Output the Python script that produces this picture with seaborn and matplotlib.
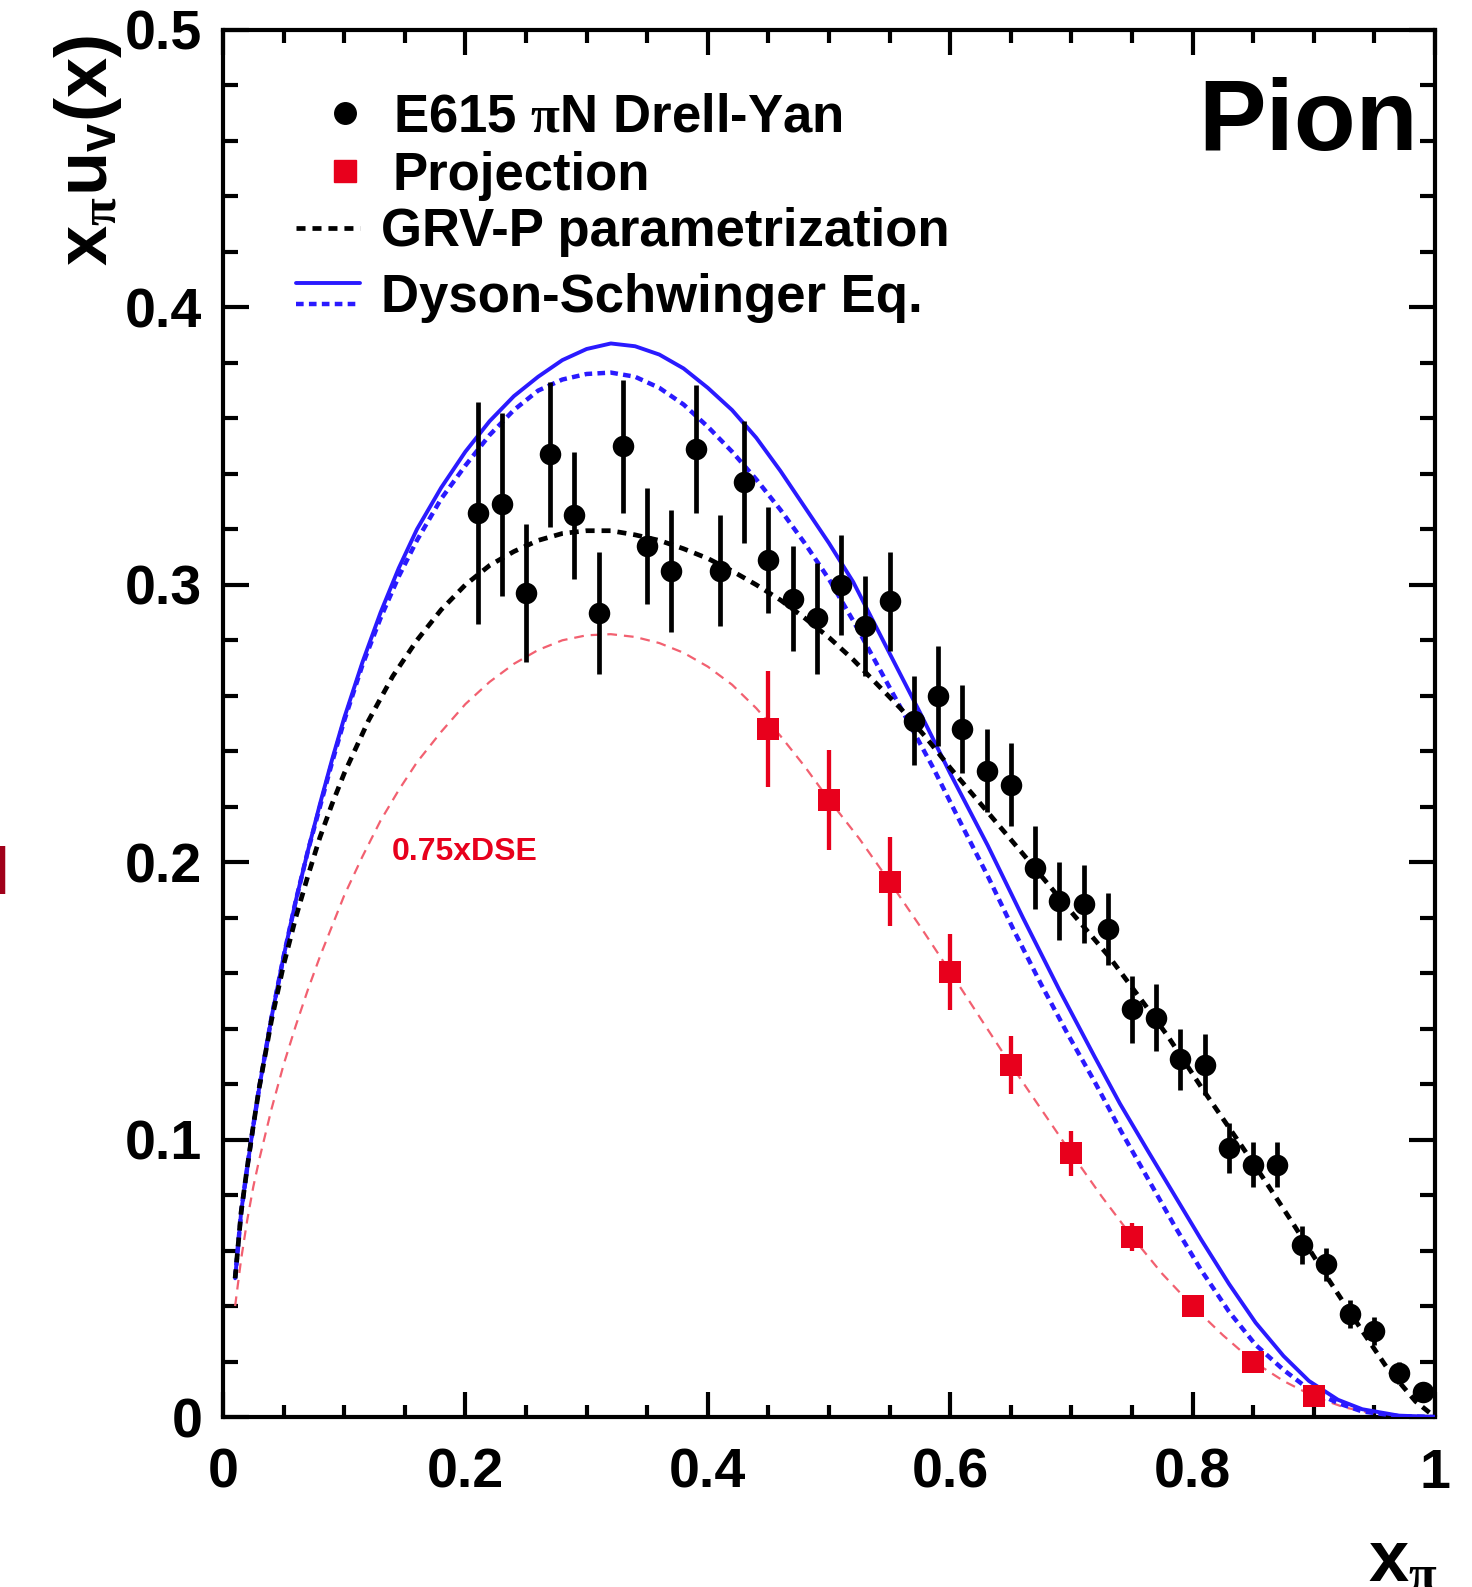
import numpy as np
import pandas as pd
import matplotlib
matplotlib.use("Agg")
import matplotlib.pyplot as plt
import seaborn as sns
from matplotlib.lines import Line2D
from matplotlib.legend_handler import HandlerBase
from matplotlib.ticker import MultipleLocator

# ---------------- data ----------------
e615_x = [0.21, 0.23, 0.25, 0.27, 0.29, 0.31, 0.33, 0.35, 0.37, 0.39,
          0.41, 0.43, 0.45, 0.47, 0.49, 0.51, 0.53, 0.55, 0.57, 0.59,
          0.61, 0.63, 0.65, 0.67, 0.69, 0.71, 0.73, 0.75, 0.77, 0.79,
          0.81, 0.83, 0.85, 0.87, 0.89, 0.91, 0.93, 0.95, 0.97, 0.99]
e615_y = [0.326, 0.329, 0.297, 0.347, 0.325, 0.290, 0.350, 0.314, 0.305, 0.349,
          0.305, 0.337, 0.309, 0.295, 0.288, 0.300, 0.285, 0.294, 0.251, 0.260,
          0.248, 0.233, 0.228, 0.198, 0.186, 0.185, 0.176, 0.147, 0.144, 0.129,
          0.127, 0.097, 0.091, 0.091, 0.062, 0.055, 0.037, 0.031, 0.016, 0.009]
e615_err = [0.040, 0.033, 0.025, 0.026, 0.023, 0.022, 0.024, 0.021, 0.022, 0.023,
            0.020, 0.022, 0.019, 0.019, 0.020, 0.018, 0.018, 0.018, 0.016, 0.018,
            0.016, 0.015, 0.015, 0.015, 0.014, 0.014, 0.013, 0.012, 0.012, 0.011,
            0.011, 0.009, 0.008, 0.008, 0.007, 0.006, 0.005, 0.005, 0.004, 0.003]

proj_x = [0.45, 0.50, 0.55, 0.60, 0.65, 0.70, 0.75, 0.80, 0.85, 0.90]
proj_y = [0.248, 0.2225, 0.193, 0.1605, 0.127, 0.095, 0.065, 0.040, 0.020, 0.0074]
proj_err = [0.021, 0.018, 0.016, 0.0137, 0.0105, 0.008, 0.005, 0.003, 0.002, 0.001]

grv_x = [0.010, 0.015, 0.020, 0.025, 0.030, 0.040, 0.050, 0.060, 0.070, 0.080,
         0.090, 0.100, 0.120, 0.140, 0.160, 0.180, 0.200, 0.220, 0.240, 0.260,
         0.280, 0.300, 0.320, 0.340, 0.360, 0.380, 0.400, 0.420, 0.440, 0.460,
         0.480, 0.500, 0.520, 0.540, 0.560, 0.580, 0.600, 0.631, 0.660, 0.700,
         0.731, 0.760, 0.780, 0.807, 0.840, 0.860, 0.881, 0.910, 0.940, 0.960,
         0.984, 1.000]
grv_y = [0.050, 0.074, 0.090, 0.105, 0.119, 0.143, 0.163, 0.180, 0.195, 0.209,
         0.221, 0.232, 0.251, 0.267, 0.280, 0.291, 0.300, 0.307, 0.312, 0.316,
         0.3185, 0.3195, 0.3195, 0.318, 0.316, 0.313, 0.3095, 0.305, 0.300, 0.2945,
         0.288, 0.281, 0.273, 0.264, 0.255, 0.245, 0.234, 0.218, 0.203, 0.182,
         0.166, 0.149, 0.137, 0.119, 0.098, 0.085, 0.071, 0.051, 0.031, 0.018,
         0.0056, 0.0]

dse_x = [0.010, 0.015, 0.020, 0.025, 0.030, 0.040, 0.050, 0.060, 0.070, 0.080,
         0.090, 0.100, 0.115, 0.130, 0.145, 0.160, 0.180, 0.200, 0.220, 0.240,
         0.260, 0.280, 0.300, 0.320, 0.340, 0.360, 0.380, 0.400, 0.420, 0.440,
         0.460, 0.480, 0.500, 0.520, 0.548, 0.575, 0.600, 0.631, 0.660, 0.690,
         0.719, 0.740, 0.763, 0.785, 0.807, 0.830, 0.852, 0.875, 0.896, 0.920,
         0.940, 0.970, 1.000]
dse_y = [0.050, 0.074, 0.090, 0.105, 0.119, 0.144, 0.166, 0.186, 0.204, 0.221,
         0.237, 0.252, 0.272, 0.290, 0.306, 0.320, 0.335, 0.348, 0.359, 0.368,
         0.375, 0.381, 0.385, 0.387, 0.386, 0.383, 0.378, 0.371, 0.363, 0.353,
         0.341, 0.328, 0.315, 0.301, 0.277, 0.254, 0.232, 0.206, 0.180, 0.154,
         0.130, 0.113, 0.096, 0.080, 0.064, 0.048, 0.034, 0.022, 0.013, 0.0062,
         0.0028, 0.0005, 0.0]

dse2_x = [0.010, 0.015, 0.020, 0.025, 0.030, 0.040, 0.050, 0.060, 0.070, 0.080,
          0.090, 0.100, 0.115, 0.130, 0.145, 0.160, 0.180, 0.200, 0.220, 0.240,
          0.260, 0.280, 0.300, 0.320, 0.340, 0.360, 0.380, 0.400, 0.420, 0.440,
          0.460, 0.480, 0.500, 0.520, 0.540, 0.560, 0.586, 0.610, 0.631, 0.653,
          0.675, 0.697, 0.719, 0.741, 0.763, 0.785, 0.807, 0.830, 0.852, 0.875,
          0.896, 0.920, 0.940, 0.970, 1.000]
dse2_y = [0.050, 0.074, 0.090, 0.105, 0.119, 0.144, 0.166, 0.186, 0.204, 0.220,
          0.236, 0.251, 0.271, 0.288, 0.303, 0.316, 0.331, 0.343, 0.354, 0.363,
          0.370, 0.374, 0.376, 0.3765, 0.375, 0.371, 0.365, 0.357, 0.348, 0.338,
          0.327, 0.315, 0.302, 0.287, 0.271, 0.255, 0.234, 0.213, 0.195, 0.175,
          0.156, 0.138, 0.121, 0.103, 0.086, 0.069, 0.053, 0.038, 0.026, 0.017,
          0.010, 0.005, 0.002, 0.0003, 0.0]

dse075_x = [0.010, 0.015, 0.020, 0.025, 0.030, 0.040, 0.050, 0.060, 0.070, 0.080,
            0.090, 0.100, 0.115, 0.130, 0.145, 0.160, 0.180, 0.200, 0.220, 0.240,
            0.260, 0.280, 0.300, 0.320, 0.340, 0.360, 0.380, 0.400, 0.420, 0.440,
            0.460, 0.480, 0.500, 0.525, 0.550, 0.575, 0.600, 0.625, 0.650, 0.675,
            0.700, 0.725, 0.750, 0.775, 0.800, 0.825, 0.850, 0.875, 0.900, 0.925,
            0.950, 0.975, 1.000]
dse075_y = [0.040, 0.057, 0.071, 0.083, 0.093, 0.111, 0.127, 0.141, 0.154, 0.166,
            0.177, 0.188, 0.202, 0.215, 0.226, 0.236, 0.247, 0.257, 0.265, 0.2715,
            0.2765, 0.280, 0.2818, 0.2822, 0.2812, 0.279, 0.2755, 0.2705, 0.264, 0.2555,
            0.2455, 0.2345, 0.2225, 0.2085, 0.193, 0.177, 0.1605, 0.1437, 0.127, 0.111,
            0.095, 0.0795, 0.065, 0.0516, 0.040, 0.0295, 0.020, 0.013, 0.0074, 0.0035,
            0.0012, 0.0002, 0.0]

xtick_vals = [0, 0.2, 0.4, 0.6, 0.8, 1.0]
xtick_labels = ["0", "0.2", "0.4", "0.6", "0.8", "1"]
ytick_vals = [0, 0.1, 0.2, 0.3, 0.4, 0.5]
ytick_labels = ["0", "0.1", "0.2", "0.3", "0.4", "0.5"]

legend_labels = ["E615 $\\mathrm{\\pi}$N Drell-Yan", "Projection",
                 "GRV-P parametrization", "Dyson-Schwinger Eq."]

# ---------------- style ----------------
sns.set_theme(style="ticks")
plt.rcParams["font.family"] = ["Liberation Sans", "DejaVu Sans"]
plt.rcParams["font.weight"] = "bold"
plt.rcParams["text.color"] = "black"
plt.rcParams["axes.labelcolor"] = "black"
plt.rcParams["xtick.color"] = "black"
plt.rcParams["ytick.color"] = "black"
plt.rcParams["mathtext.fontset"] = "custom"
plt.rcParams["mathtext.rm"] = "Liberation Serif"
plt.rcParams["mathtext.it"] = "Liberation Serif:italic"
plt.rcParams["mathtext.bf"] = "Liberation Sans:bold"
plt.rcParams["mathtext.sf"] = "Liberation Sans:bold"
plt.rcParams["lines.scale_dashes"] = False
plt.rcParams["axes.linewidth"] = 3.0

BLUE = "#2a1aff"
RED = "#e8001c"
LRED = "#f26070"
GRV_DASH = (0, (6.5, 5.0))
DSE_DASH = (0, (5.5, 3.8))

W, H = 1472, 1587
fig = plt.figure(figsize=(W / 100, H / 100), dpi=100)
ax = fig.add_axes([223 / W, 1 - 1417 / H, 1212 / W, 1387 / H])
ax.set_facecolor("white")

# curves
sns.lineplot(x=dse075_x, y=dse075_y, ax=ax, color=LRED, lw=1.6,
             linestyle=(0, (7, 5)), zorder=2)
sns.lineplot(x=dse2_x, y=dse2_y, ax=ax, color=BLUE, lw=3.2,
             linestyle=DSE_DASH, zorder=3)
sns.lineplot(x=dse_x, y=dse_y, ax=ax, color=BLUE, lw=2.8, zorder=3)
sns.lineplot(x=grv_x, y=grv_y, ax=ax, color="black", lw=3.4,
             linestyle=GRV_DASH, zorder=4)

# data points
ax.errorbar(e615_x, e615_y, yerr=e615_err, fmt="none", ecolor="black",
            elinewidth=3.4, capsize=0, zorder=5)
sns.scatterplot(x=e615_x, y=e615_y, ax=ax, color="black", marker="o",
                s=240, linewidth=0, zorder=6, legend=False)
ax.errorbar(proj_x, proj_y, yerr=proj_err, fmt="none", ecolor=RED,
            elinewidth=3.1, capsize=0, zorder=5)
sns.scatterplot(x=proj_x, y=proj_y, ax=ax, color=RED, marker="s",
                s=240, linewidth=0, zorder=6, legend=False)

# axes
ax.set_xlim(0, 1)
ax.set_ylim(0, 0.5)
ax.set_xticks(xtick_vals)
ax.set_xticklabels(xtick_labels)
ax.set_yticks(ytick_vals)
ax.set_yticklabels(ytick_labels)
ax.xaxis.set_minor_locator(MultipleLocator(0.05))
ax.yaxis.set_minor_locator(MultipleLocator(0.02))
ax.tick_params(axis="both", which="both", direction="in", top=True, right=True,
               width=3.0, colors="black")
ax.tick_params(axis="x", which="major", length=18, pad=22, labelsize=40)
ax.tick_params(axis="x", which="minor", length=9)
ax.tick_params(axis="y", which="major", length=19, pad=15, labelsize=40)
ax.tick_params(axis="y", which="minor", length=10.5)
for lab in ax.get_xticklabels() + ax.get_yticklabels():
    lab.set_fontweight("bold")
    lab.set_color("black")
for sp in ax.spines.values():
    sp.set_color("black")
    sp.set_linewidth(3.0)
ax.set_xlabel("")
ax.set_ylabel("")

# axis titles
fig.text(88 / W, 1 - 35 / H, r"$\mathbf{x}_{\mathrm{\pi}}\mathbf{u}_{\mathbf{v}}\mathbf{(x)}$",
         rotation=90, ha="center", va="top", fontsize=52, color="black")
fig.text(1368 / W, 1 - 1582 / H, r"$\mathbf{x}_{\mathrm{\pi}}$",
         ha="left", va="baseline", fontsize=52, color="black")

# annotations
fig.text(1198 / W, 1 - 150 / H, "Pion", fontsize=73, fontweight="bold",
         ha="left", va="baseline", color="black")
ax.text(0.1394, 0.2037, "0.75xDSE", color=RED, fontsize=23, fontweight="bold",
        ha="left", va="center")
fig.text(9 / W, 1 - 893 / H, "d", color="#a0001a", fontsize=48,
         fontweight="bold", ha="right", va="baseline")


# legend
class TwoLineHandler(HandlerBase):
    def create_artists(self, legend, orig_handle, xdescent, ydescent,
                       width, height, fontsize, trans):
        yc = height / 2 - ydescent
        off = 7.5
        l1 = Line2D([-xdescent, -xdescent + width], [yc + off, yc + off],
                    color=BLUE, lw=2.8)
        l2 = Line2D([-xdescent, -xdescent + width], [yc - off, yc - off],
                    color=BLUE, lw=3.2, linestyle=DSE_DASH)
        l1.set_transform(trans)
        l2.set_transform(trans)
        return [l1, l2]


h_e615 = Line2D([], [], marker="o", color="black", linestyle="none", markersize=15.5)
h_proj = Line2D([], [], marker="s", color=RED, linestyle="none", markersize=15.5)
h_grv = Line2D([], [], color="black", lw=3.4, linestyle=GRV_DASH)
h_dse = Line2D([], [], color=BLUE)

leg1 = ax.legend([h_e615, h_proj], legend_labels[:2], loc="upper left",
                 bbox_to_anchor=(319 / W, 1 - 92 / H), bbox_transform=fig.transFigure,
                 frameon=False, fontsize=38, handlelength=1.0, handletextpad=0.4,
                 labelspacing=0.17, borderpad=0, borderaxespad=0,
                 labelcolor="black")
ax.add_artist(leg1)
leg2 = ax.legend([h_grv, h_dse], legend_labels[2:], loc="upper left",
                 bbox_to_anchor=(296 / W, 1 - 207 / H), bbox_transform=fig.transFigure,
                 frameon=False, fontsize=38, handlelength=1.21, handletextpad=0.4,
                 labelspacing=0.30, borderpad=0, borderaxespad=0,
                 labelcolor="black", handler_map={h_dse: TwoLineHandler()})
for lg in (leg1, leg2):
    for t in lg.get_texts():
        t.set_fontweight("bold")
        t.set_color("black")

fig.savefig("out.png", dpi=100, facecolor="white")
